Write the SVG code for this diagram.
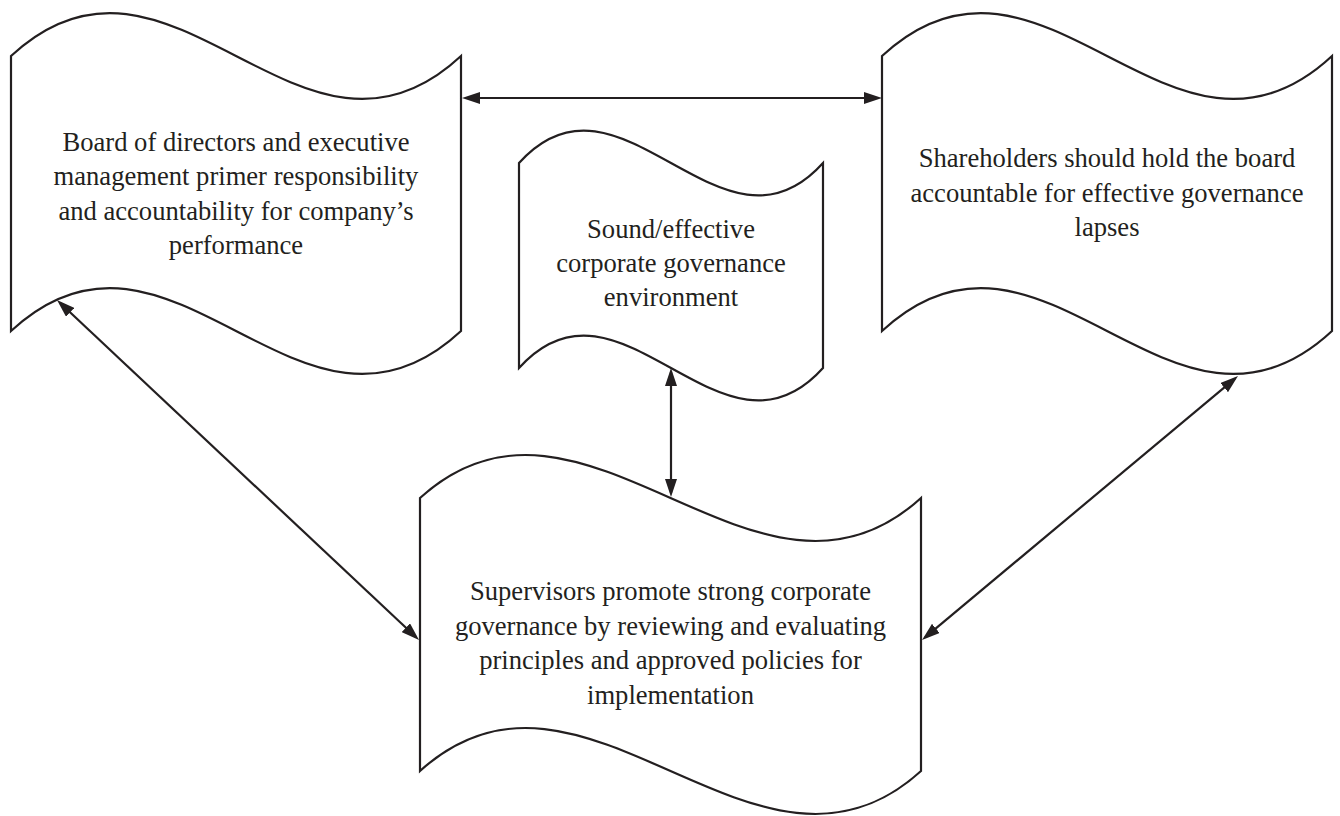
<svg xmlns="http://www.w3.org/2000/svg" width="1340" height="816" viewBox="0 0 1340 816">
<style>
  .node { fill: #ffffff; stroke: #231f20; stroke-width: 2.2; stroke-linejoin: miter; }
  .lbl { font-family: "Liberation Serif", "Times New Roman", serif; font-size: 26.6px; fill: #231f20; text-anchor: middle; }
  .conn { fill: none; stroke: #231f20; stroke-width: 2.2; marker-start: url(#arr); marker-end: url(#arr); }
</style>
<defs>
  <marker id="arr" viewBox="0 0 18 12" markerWidth="18" markerHeight="12" refX="14" refY="6" orient="auto-start-reverse" markerUnits="userSpaceOnUse">
    <path d="M0,0 L18,6 L0,12 z" fill="#231f20"/>
  </marker>
</defs>
<rect width="1340" height="816" fill="#ffffff"/>

<g id="node-board">
  <path class="node" d="M11,56 C171,-93 301,205 461,56 L461,331 C301,480 171,182 11,331 Z"/>
  <text class="lbl" x="236" y="151">Board of directors and executive</text>
  <text class="lbl" x="236" y="185.3">management primer responsibility</text>
  <text class="lbl" x="236" y="219.6">and accountability for company’s</text>
  <text class="lbl" x="236" y="253.9">performance</text>
</g>

<g id="node-shareholders">
  <path class="node" d="M882,56 C1042,-93 1172,205 1332,56 L1332,331 C1172,480 1042,182 882,331 Z"/>
  <text class="lbl" x="1107" y="167">Shareholders should hold the board</text>
  <text class="lbl" x="1107" y="201.5">accountable for effective governance</text>
  <text class="lbl" x="1107" y="236">lapses</text>
</g>

<g id="node-environment">
  <path class="node" d="M519,163 C620,50.5 722,275.5 823,163 L823,368 C722,480.5 620,255.5 519,368 Z"/>
  <text class="lbl" x="671" y="238">Sound/effective</text>
  <text class="lbl" x="671" y="272">corporate governance</text>
  <text class="lbl" x="671" y="306">environment</text>
</g>

<g id="node-supervisors">
  <path class="node" d="M420,498 C584,349 757,647 921,498 L921,771 C757,920 584,622 420,771 Z"/>
  <text class="lbl" x="670.5" y="600">Supervisors promote strong corporate</text>
  <text class="lbl" x="670.5" y="634.5">governance by reviewing and evaluating</text>
  <text class="lbl" x="670.5" y="669">principles and approved policies for</text>
  <text class="lbl" x="670.5" y="703.5">implementation</text>
</g>

<g id="connectors">
  <path class="conn" d="M466,98 L878,98"/>
  <path class="conn" d="M671,372 L671,493"/>
  <path class="conn" d="M59.9,302.7 L416.1,637.3"/>
  <path class="conn" d="M1234.9,378.6 L925.1,637.4"/>
</g>
</svg>
